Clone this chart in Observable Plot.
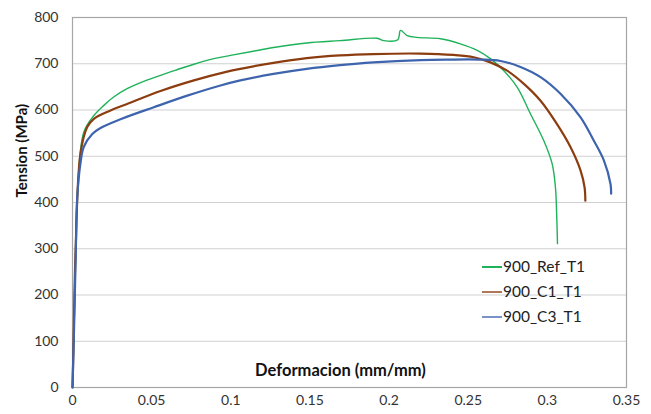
<!DOCTYPE html>
<html>
<head>
<meta charset="utf-8">
<script src="https://cdn.jsdelivr.net/npm/d3@7"></script>
<script src="https://cdn.jsdelivr.net/npm/@observablehq/plot@0.6"></script>
<style>
  html, body { margin: 0; padding: 0; background: #fff; }
  #wrap { position: relative; width: 651px; height: 414px; font-family: Lato, "Open Sans", sans-serif; }
  #legend { position: absolute; left: 482px; top: 254px; font-size: 15.5px; color: #222; line-height: 25px; }
  #legend .row { display: flex; align-items: center; height: 25px; }
  #legend .sw { width: 20px; height: 2px; margin-right: 1px; }
</style>
</head>
<body>
<div id="wrap"><div id="legend"></div></div>
<script>
const seriesNames = ["900_Ref_T1", "900_C1_T1", "900_C3_T1"];
const seriesColors = ["#1fb25a", "#8c3d10", "#3d64ad"];
const seriesWidths = [1.4, 2.2, 2.2];

const refX = [0, 0.0015, 0.003, 0.0071, 0.0135, 0.0198, 0.026, 0.0345, 0.045, 0.0556, 0.066, 0.0767, 0.0893, 0.0998, 0.1125, 0.127, 0.148, 0.169, 0.1925, 0.1967, 0.2055, 0.2072, 0.2114, 0.2178, 0.2325, 0.245, 0.2557, 0.264, 0.2725, 0.281, 0.2893, 0.2977, 0.303, 0.3051, 0.306, 0.3064];
const refY = [0, 200, 411, 552, 588, 610, 628, 646, 662, 675, 687, 699, 711, 718, 726, 735, 745, 750, 755, 750, 752, 772, 761, 757, 754, 743, 729, 711, 685, 649, 592, 534, 484, 433, 361, 311];

const c1X = [0, 0.0005, 0.002, 0.005, 0.0093, 0.0135, 0.024, 0.0345, 0.0556, 0.0767, 0.0977, 0.106, 0.127, 0.148, 0.169, 0.19, 0.22, 0.2407, 0.2535, 0.264, 0.2746, 0.285, 0.2957, 0.306, 0.3146, 0.321, 0.3235, 0.324];
const c1Y = [0, 70, 300, 505, 563, 581, 599, 613, 641, 664, 683, 689, 702, 712, 718, 721, 722, 719, 714, 703, 685, 657, 620, 570, 520, 469, 433, 404];

const c3X = [0, 0.001, 0.002, 0.003, 0.005, 0.0071, 0.0125, 0.0177, 0.0303, 0.0514, 0.0725, 0.0935, 0.106, 0.127, 0.148, 0.169, 0.19, 0.22, 0.2367, 0.2578, 0.2704, 0.283, 0.2957, 0.3083, 0.321, 0.3293, 0.3357, 0.3399, 0.3403];
const c3Y = [0, 130, 280, 411, 484, 520, 548, 561, 580, 606, 631, 653, 664, 678, 689, 697, 703, 708, 709, 709, 706, 693, 671, 635, 584, 534, 491, 440, 419];

const xTicks = [0, 0.05, 0.1, 0.15, 0.2, 0.25, 0.3, 0.35];
const yTicks = [0, 100, 200, 300, 400, 500, 600, 700, 800];

const toRows = (xs, ys, name) => xs.map((x, i) => ({x, y: ys[i], name}));
const rows = [
  ...toRows(refX, refY, seriesNames[0]),
  ...toRows(c1X, c1Y, seriesNames[1]),
  ...toRows(c3X, c3Y, seriesNames[2])
];

const font = "Lato, 'Open Sans', sans-serif";

const chart = Plot.plot({
  width: 651,
  height: 414,
  marginLeft: 72,
  marginRight: 25,
  marginTop: 17,
  marginBottom: 27,
  style: {fontFamily: font, fontSize: "14px", color: "#333", background: "#fff"},
  x: {domain: [0, 0.35], ticks: xTicks, label: null},
  y: {domain: [0, 800], ticks: yTicks, label: null},
  marks: [
    Plot.gridY(yTicks, {stroke: "#d0d0d0", strokeOpacity: 1, strokeWidth: 1}),
    Plot.frame({stroke: "#a6a6a6", strokeWidth: 1.2}),
    Plot.axisX(xTicks, {tickSize: 0, tickPadding: 8, fontSize: 14, tickFormat: d => String(+d.toFixed(2))}),
    Plot.axisY(yTicks, {tickSize: 0, tickPadding: 14, fontSize: 14, tickFormat: d => String(d)}),
    ...seriesNames.map((n, i) => Plot.line(rows.filter(r => r.name === n), {
      x: "x", y: "y", stroke: seriesColors[i], strokeWidth: seriesWidths[i], curve: "catmull-rom"
    })),
    Plot.text(["Deformacion (mm/mm)"], {frameAnchor: "bottom", dy: -12, dx: -9, text: d => d, fontWeight: "bold", fontSize: 16.5, fill: "#111"}),
    Plot.text(["Tension (MPa)"], {frameAnchor: "left", dx: -50, dy: -5, rotate: -90, text: d => d, fontWeight: "bold", fontSize: 15, fill: "#111"})
  ]
});

const wrap = document.getElementById("wrap");
wrap.insertBefore(chart, wrap.firstChild);

const legend = document.getElementById("legend");
seriesNames.forEach((n, i) => {
  const row = document.createElement("div");
  row.className = "row";
  const sw = document.createElement("div");
  sw.className = "sw";
  sw.style.background = seriesColors[i];
  sw.style.opacity = i === 0 ? "1" : "0.7";
  const t = document.createElement("span");
  t.textContent = n;
  row.appendChild(sw);
  row.appendChild(t);
  legend.appendChild(row);
});
</script>
</body>
</html>
